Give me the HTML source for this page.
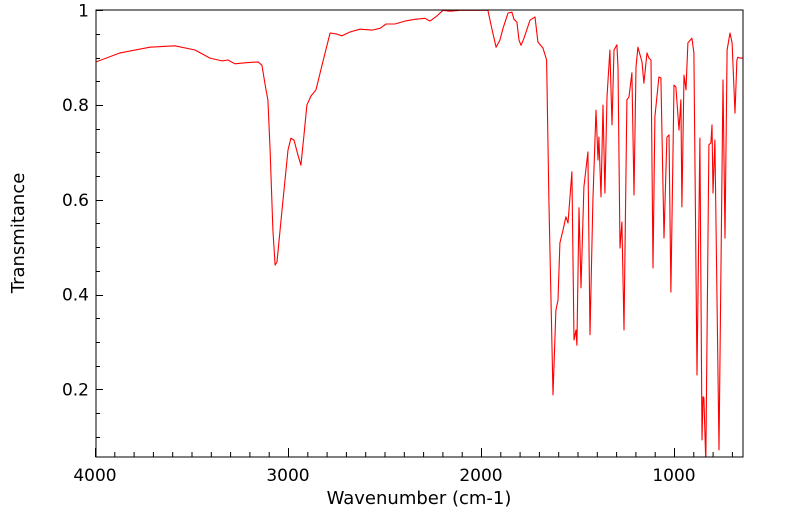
<!DOCTYPE html>
<html><head><meta charset="utf-8"><style>
html,body{margin:0;padding:0;background:#fff;}
svg{display:block;font-family:"DejaVu Sans","Liberation Sans",sans-serif;}
</style></head><body>
<svg id="chart" width="799" height="516" viewBox="0 0 799 516" xmlns="http://www.w3.org/2000/svg">
<defs><clipPath id="pc"><rect x="96" y="10" width="647" height="447"/></clipPath></defs>
<g id="ticks"></g>
<g id="labels"></g>
<polyline id="line" clip-path="url(#pc)" fill="none" stroke="#ff0000" stroke-width="1.1" stroke-linejoin="round"/>
<rect x="96" y="10" width="647" height="447" fill="none" stroke="#000" stroke-width="1"/>
<text x="419" y="504" font-size="18" text-anchor="middle">Wavenumber (cm-1)</text>
<text transform="translate(24,233) rotate(-90)" font-size="18" text-anchor="middle">Transmitance</text>
</svg>
<script>
const wavenumbers=[3995,3870,3715,3586,3482,3404,3342,3311,3275,3223,3155,3135,3114,3104,3093,3078,3067,3057,3031,3000,2985,2969,2948,2933,2917,2902,2881,2855,2824,2782,2751,2720,2679,2627,2565,2523,2492,2446,2394,2342,2290,2264,2228,2197,2161,2109,2005,1964,1948,1922,1902,1886,1860,1840,1829,1814,1803,1793,1777,1746,1720,1705,1679,1660,1648,1627,1612,1601,1591,1575,1560,1549,1529,1518,1508,1503,1492,1482,1467,1446,1435,1420,1404,1394,1389,1378,1368,1358,1347,1332,1321,1311,1296,1290,1280,1270,1259,1244,1233,1218,1207,1197,1187,1166,1156,1140,1130,1119,1109,1099,1078,1068,1052,1037,1026,1016,1000,990,974,964,959,948,938,928,907,897,881,866,855,850,845,835,819,809,803,798,788,767,746,736,725,710,699,684,674,669,658,643];
const transmittance=[0.891,0.910,0.922,0.925,0.916,0.899,0.893,0.895,0.887,0.889,0.891,0.884,0.832,0.811,0.705,0.536,0.462,0.469,0.578,0.705,0.730,0.726,0.694,0.673,0.737,0.800,0.819,0.832,0.884,0.952,0.950,0.946,0.954,0.960,0.958,0.962,0.971,0.971,0.977,0.981,0.983,0.977,0.988,1.0,0.998,1.0,1.0,1.0,0.969,0.922,0.937,0.962,0.994,0.996,0.981,0.975,0.937,0.926,0.941,0.979,0.986,0.933,0.920,0.895,0.599,0.188,0.367,0.388,0.509,0.536,0.564,0.551,0.659,0.304,0.325,0.293,0.583,0.414,0.627,0.701,0.315,0.599,0.789,0.684,0.732,0.606,0.800,0.614,0.817,0.916,0.758,0.916,0.927,0.880,0.498,0.553,0.325,0.811,0.817,0.868,0.610,0.880,0.922,0.891,0.846,0.910,0.899,0.895,0.456,0.775,0.859,0.857,0.519,0.732,0.737,0.405,0.842,0.838,0.747,0.811,0.585,0.863,0.832,0.931,0.941,0.910,0.230,0.730,0.093,0.184,0.182,0.045,0.716,0.720,0.758,0.614,0.726,0.072,0.853,0.519,0.916,0.952,0.931,0.783,0.895,0.901,0.899,0.899];
const xTickLabels=["4000","3000","2000","1000"];
const xTickValues=[4000,3000,2000,1000];
const yTickLabels=["0.2","0.4","0.6","0.8","1"];
const yTickValues=[0.2,0.4,0.6,0.8,1.0];

const X=w=>95+(4000-w)*0.193;
const Y=t=>484-t*473.75;
const NS='http://www.w3.org/2000/svg';
const line=document.getElementById('line');
line.setAttribute('points',wavenumbers.map((w,i)=>X(w).toFixed(1)+','+Y(transmittance[i]).toFixed(1)).join(' '));
const tg=document.getElementById('ticks'), lg=document.getElementById('labels');
function ln(x1,y1,x2,y2){const l=document.createElementNS(NS,'line');


l.setAttribute('x1',x1);l.setAttribute('y1',y1);l.setAttribute('x2',x2);l.setAttribute('y2',y2);l.setAttribute('stroke','#000');tg.appendChild(l);}
function tx(s,x,y,a){const t=document.createElementNS(NS,'text');


t.setAttribute('x',x);t.setAttribute('y',y);t.setAttribute('text-anchor',a);t.setAttribute('font-size','17');t.textContent=s;lg.appendChild(t);}
for(let w=700;w<=4000;w+=100){const x=X(w)+0.5;const major=w%1000===0;ln(x,457,x,457-(major?9:5));}
for(let v=0.1;v<1.0001;v+=0.05){const y=Math.round(Y(v))+0.5;if(y>457)continue;const major=Math.abs(v*5-Math.round(v*5))<1e-6;ln(96,y,96+(major?7:4),y);}
xTickValues.forEach((v,i)=>tx(xTickLabels[i],X(v),481,'middle'));
yTickValues.forEach((v,i)=>tx(yTickLabels[i],89,Y(v)+6,'end'));
</script>
</body></html>
